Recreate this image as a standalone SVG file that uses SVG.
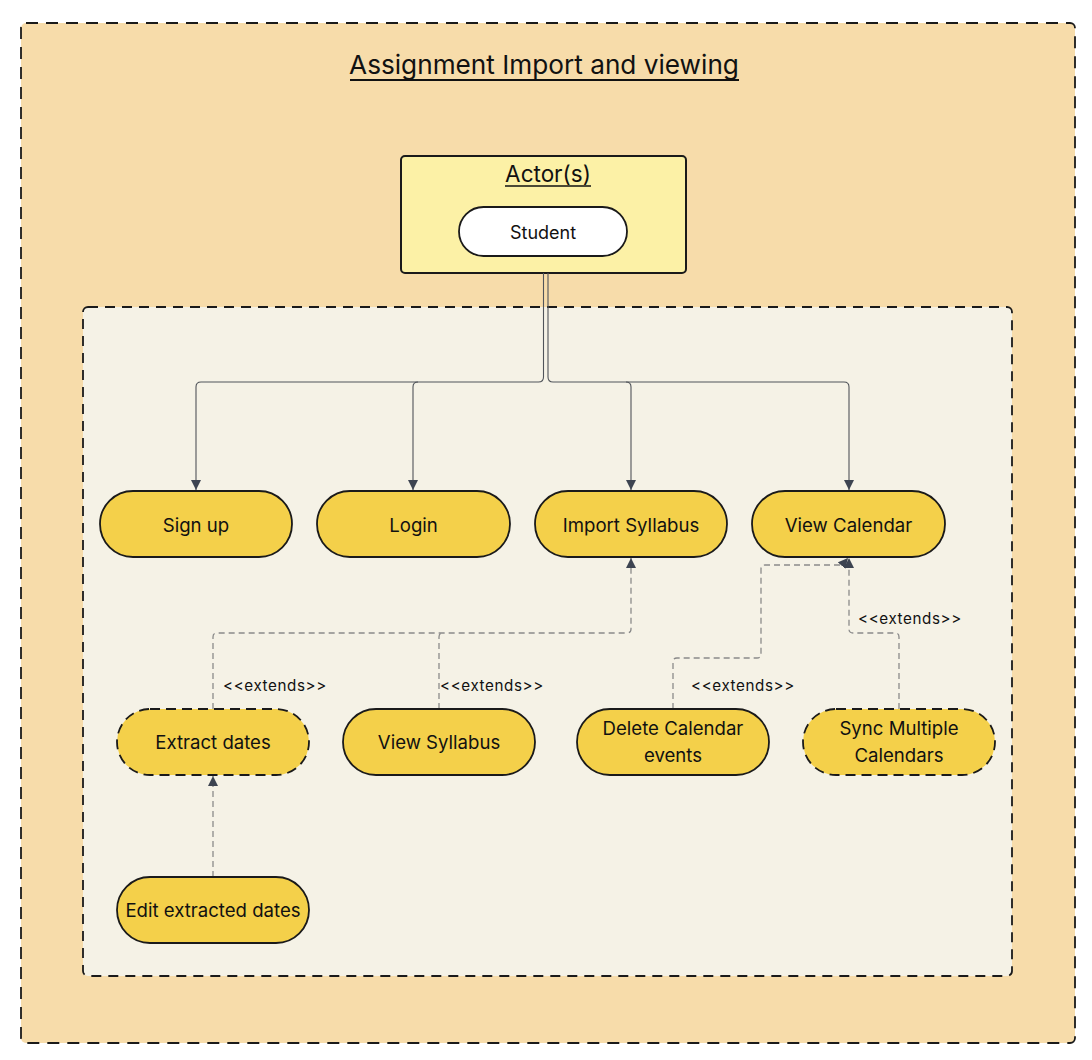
<svg xmlns="http://www.w3.org/2000/svg" width="1092" height="1060" viewBox="0 0 1092 1060">
<style>
text{font-family:Inter,"Noto Sans","Liberation Sans",sans-serif;fill:#111;}
.uc{fill:#f4d04a;stroke:#1a1a1a;stroke-width:1.8;}
.ucd{fill:#f4d04a;stroke:#1a1a1a;stroke-width:1.8;stroke-dasharray:10 6;}
.lbl{font-size:18.6px;text-anchor:middle;}
.ext{font-size:15.2px;letter-spacing:0.6px;}
.solid{fill:none;stroke:#50545a;stroke-width:1.1;}
.dash{fill:none;stroke:#8a8a8a;stroke-width:1.3;stroke-dasharray:6 4;}
</style>
<defs>
<marker id="arr" viewBox="0 0 10 10" refX="10" refY="5" markerWidth="10" markerHeight="10" markerUnits="userSpaceOnUse" orient="auto">
<path d="M0,0 L10,5 L0,10 z" fill="#3d4451"/>
</marker>
</defs>
<g id="frame">
<rect x="21" y="23" width="1054" height="1020" rx="5" fill="#f7dcaa" stroke="#1a1a1a" stroke-width="1.8" stroke-dasharray="12 8"/>
<text x="544" y="74" font-size="26.2" text-anchor="middle">Assignment Import and viewing</text>
<line x1="350" y1="80" x2="739" y2="80" stroke="#111" stroke-width="1.8"/>
</g>
<g id="system">
<rect x="83" y="307" width="929" height="669" rx="5" fill="#f5f2e6" stroke="#1a1a1a" stroke-width="1.8" stroke-dasharray="10 7"/>
</g>
<g id="actors">
<rect x="401" y="156" width="285" height="117" rx="4" fill="#fcf1a6" stroke="#1a1a1a" stroke-width="2"/>
<text x="548" y="182" font-size="22.5" text-anchor="middle">Actor(s)</text>
<line x1="505" y1="186" x2="591" y2="186" stroke="#111" stroke-width="1.6"/>
</g>
<g id="student">
<rect x="459" y="207" width="168" height="49" rx="24.5" fill="#ffffff" stroke="#1a1a1a" stroke-width="1.8"/>
<text x="543" y="239" font-size="18" text-anchor="middle">Student</text>
</g>
<g id="connectors">
<path class="solid" d="M543.5,273 V377 Q543.5,382 538.5,382 H201 Q196,382 196,387 V490" marker-end="url(#arr)"/>
<path class="solid" d="M418,382 Q413,382 413,387 V490" marker-end="url(#arr)"/>
<path class="solid" d="M548,273 V377 Q548,382 553,382 H844 Q849,382 849,387 V490" marker-end="url(#arr)"/>
<path class="solid" d="M626,382 Q631,382 631,387 V490" marker-end="url(#arr)"/>
<path class="dash" d="M213,709 V637 Q213,633 217,633 H627 Q631,633 631,629 V558" marker-end="url(#arr)"/>
<path class="dash" d="M439,709 V637 Q439,633 443,633"/>
<path class="dash" d="M673,709 V662 Q673,658 677,658 H757 Q761,658 761,654 V569 Q761,565 765,565 H842 L848,558" marker-end="url(#arr)"/>
<path class="dash" d="M899,709 V637 Q899,633 895,633 H853 Q849,633 849,629 V558" marker-end="url(#arr)"/>
<path class="dash" d="M213,877 V776" marker-end="url(#arr)"/>
<text class="ext" x="223" y="691">&lt;&lt;extends&gt;&gt;</text>
<text class="ext" x="440" y="691">&lt;&lt;extends&gt;&gt;</text>
<text class="ext" x="691" y="691">&lt;&lt;extends&gt;&gt;</text>
<text class="ext" x="858" y="624">&lt;&lt;extends&gt;&gt;</text>
</g>
<g id="signup"><rect class="uc" x="100" y="491" width="192" height="66" rx="33"/><text class="lbl" x="196" y="532">Sign up</text></g>
<g id="login"><rect class="uc" x="317" y="491" width="193" height="66" rx="33"/><text class="lbl" x="413.5" y="532">Login</text></g>
<g id="import"><rect class="uc" x="535" y="491" width="192" height="66" rx="33"/><text class="lbl" x="631" y="532">Import Syllabus</text></g>
<g id="viewcal"><rect class="uc" x="752" y="491" width="193" height="66" rx="33"/><text class="lbl" x="848.5" y="532">View Calendar</text></g>
<g id="extract"><rect class="ucd" x="117" y="709" width="192" height="66" rx="33"/><text class="lbl" x="213" y="749">Extract dates</text></g>
<g id="viewsyl"><rect class="uc" x="343" y="709" width="192" height="66" rx="33"/><text class="lbl" x="439" y="749">View Syllabus</text></g>
<g id="delete"><rect class="uc" x="577" y="709" width="192" height="66" rx="33"/><text class="lbl" x="673" y="735">Delete Calendar</text><text class="lbl" x="673" y="762">events</text></g>
<g id="sync"><rect class="ucd" x="803" y="709" width="192" height="66" rx="33"/><text class="lbl" x="899" y="735">Sync Multiple</text><text class="lbl" x="899" y="762">Calendars</text></g>
<g id="edit"><rect class="uc" x="117" y="877" width="192" height="66" rx="33"/><text class="lbl" x="213" y="917">Edit extracted dates</text></g>
</svg>
